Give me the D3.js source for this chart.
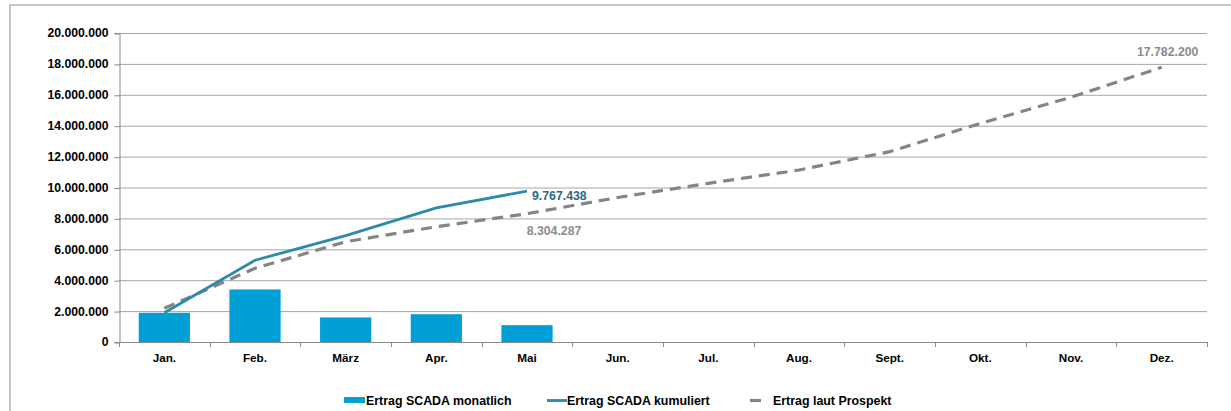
<!DOCTYPE html>
<html>
<head>
<meta charset="utf-8">
<script src="https://cdn.jsdelivr.net/npm/d3@7"></script>
<style>
  body { margin: 0; background: #fff; }
  text { font-family: "Liberation Sans", Arial, sans-serif; font-weight: bold; }
</style>
</head>
<body>
<svg></svg>
<script>
const months = ["Jan.", "Feb.", "März", "Apr.", "Mai", "Jun.", "Jul.", "Aug.", "Sept.", "Okt.", "Nov.", "Dez."];
const monthly = [1890000, 3400000, 1590000, 1800000, 1087438];
const cumulative = [1890000, 5290000, 6880000, 8680000, 9767438];
const prospekt = [2180000, 4770000, 6490000, 7460000, 8304287, 9350000, 10270000, 11130000, 12320000, 14150000, 15840000, 17782200];
const yTicks = [0, 2000000, 4000000, 6000000, 8000000, 10000000, 12000000, 14000000, 16000000, 18000000, 20000000];
const seriesNames = ["Ertrag SCADA monatlich", "Ertrag SCADA kumuliert", "Ertrag laut Prospekt"];

let width = 1231,
    height = 411;

const plotLeft = 119, plotRight = 1207, plotTop = 33, plotBottom = 342;

const de = d3.formatLocale({ decimal: ",", thousands: ".", grouping: [3], currency: ["", "€"] });
const fmt = de.format(",d");

const svg = d3.select("svg")
    .attr("width", width)
    .attr("height", height);

// Rahmen
svg.append("rect")
    .attr("x", 10).attr("y", 5)
    .attr("width", 1240).attr("height", 420)
    .attr("fill", "none")
    .attr("stroke", "#c6c6c6")
    .attr("stroke-width", 2);

const x = d3.scaleBand().domain(months).range([plotLeft, plotRight]);
const y = d3.scaleLinear().domain([0, 20000000]).range([plotBottom, plotTop]);

// Gitterlinien
svg.append("g").attr("class", "grid")
    .selectAll("line")
    .data(yTicks.filter(d => d > 0))
    .enter()
    .append("line")
    .attr("x1", plotLeft).attr("x2", plotRight)
    .attr("y1", d => y(d) + 0.5).attr("y2", d => y(d) + 0.5)
    .attr("stroke", "#a6a6a6");

// y-Achse
const yAxis = svg.append("g")
    .attr("transform", `translate(${plotLeft + 0.5},0)`)
    .call(d3.axisLeft(y).tickValues(yTicks).tickFormat(fmt).tickSize(5).tickPadding(6));
yAxis.selectAll("line").attr("stroke", "#888").attr("transform", "translate(0,0.5)");
yAxis.select(".domain").attr("stroke", "#888");
yAxis.selectAll("text").attr("font-size", 12.2).attr("fill", "#000")
    .style("font-family", "'Liberation Sans', Arial, sans-serif").style("font-weight", "bold");

// x-Achse
svg.append("line")
    .attr("x1", plotLeft).attr("x2", plotRight)
    .attr("y1", plotBottom + 0.5).attr("y2", plotBottom + 0.5)
    .attr("stroke", "#888");
svg.append("g").attr("class", "xticks")
    .selectAll("line")
    .data(months.concat(["end"]))
    .enter()
    .append("line")
    .attr("x1", (d, i) => Math.round(plotLeft + i * x.step()) + 0.5)
    .attr("x2", (d, i) => Math.round(plotLeft + i * x.step()) + 0.5)
    .attr("y1", plotBottom).attr("y2", plotBottom + 5)
    .attr("stroke", "#888");
svg.append("g").attr("class", "xlabels")
    .selectAll("text")
    .data(months)
    .enter()
    .append("text")
    .attr("x", d => x(d) + x.bandwidth() / 2)
    .attr("y", 362)
    .attr("text-anchor", "middle")
    .attr("font-size", 11.7)
    .text(d => d);

// Balken
const barW = x.bandwidth() * 0.565;
svg.append("g").attr("class", "bars")
    .selectAll("rect")
    .data(monthly)
    .enter()
    .append("rect")
    .attr("x", (d, i) => x(months[i]) + (x.bandwidth() - barW) / 2)
    .attr("y", d => y(d))
    .attr("width", barW)
    .attr("height", d => plotBottom - y(d))
    .attr("fill", "#009fd6");

const cx = (d, i) => x(months[i]) + x.bandwidth() / 2;

// Prospekt (gestrichelt)
svg.append("path")
    .datum(prospekt)
    .attr("fill", "none")
    .attr("stroke", "#858585")
    .attr("stroke-width", 3.2)
    .attr("stroke-dasharray", "11,7")
    .attr("d", d3.line().x(cx).y(d => y(d)));

// kumuliert
svg.append("path")
    .datum(cumulative)
    .attr("fill", "none")
    .attr("stroke", "#2b8ba8")
    .attr("stroke-width", 2.8)
    .attr("d", d3.line().x(cx).y(d => y(d)));

// Datenlabels
svg.append("text")
    .attr("x", cx(null, 4) + 5)
    .attr("y", y(cumulative[4]) + 9)
    .attr("font-size", 12.3)
    .attr("fill", "#2d6a80")
    .text(fmt(cumulative[4]));
svg.append("text")
    .attr("x", cx(null, 4) + 27)
    .attr("y", y(prospekt[4]) + 21)
    .attr("text-anchor", "middle")
    .attr("font-size", 12.3)
    .attr("fill", "#8c8c8c")
    .text(fmt(prospekt[4]));
svg.append("text")
    .attr("x", cx(null, 11) + 6)
    .attr("y", y(prospekt[11]) - 11)
    .attr("text-anchor", "middle")
    .attr("font-size", 12.3)
    .attr("fill", "#8c8c8c")
    .text(fmt(prospekt[11]));

// Legende
const lg = svg.append("g").attr("class", "legend");
lg.append("rect").attr("x", 344).attr("y", 397).attr("width", 21).attr("height", 6).attr("fill", "#009fd6");
lg.append("text").attr("x", 366).attr("y", 404.5).attr("font-size", 12.4).text(seriesNames[0]);
lg.append("line").attr("x1", 547).attr("x2", 567).attr("y1", 400.5).attr("y2", 400.5)
    .attr("stroke", "#2b8ba8").attr("stroke-width", 2.8);
lg.append("text").attr("x", 567).attr("y", 404.5).attr("font-size", 12.4).text(seriesNames[1]);
lg.append("line").attr("x1", 750).attr("x2", 761).attr("y1", 400.5).attr("y2", 400.5)
    .attr("stroke", "#858585").attr("stroke-width", 3.2);
lg.append("text").attr("x", 773).attr("y", 404.5).attr("font-size", 12.4).text(seriesNames[2]);
</script>
</body>
</html>
